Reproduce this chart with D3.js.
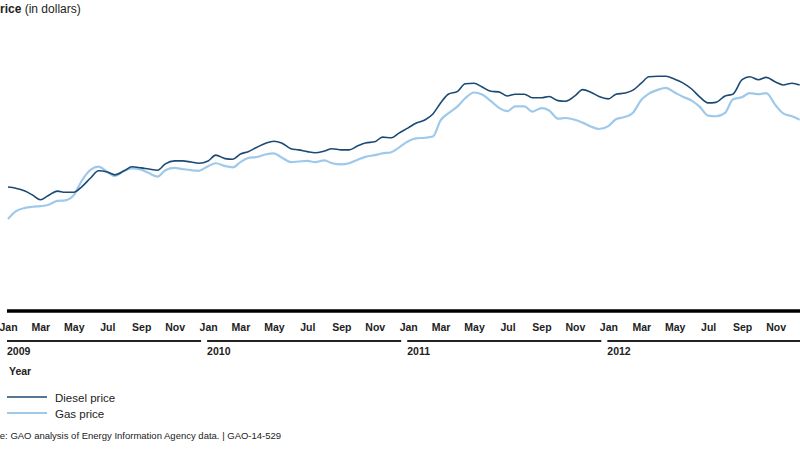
<!DOCTYPE html>
<html>
<head>
<meta charset="utf-8">
<script src="https://cdn.jsdelivr.net/npm/d3@7"></script>
<style>
  body { margin: 0; background: #fff; }
  svg { display: block; font-family: "Liberation Sans", Arial, sans-serif; }
</style>
</head>
<body>
<svg id="chart" width="800" height="450"></svg>
<script>
// Semi-monthly observations (1st and 15th of each month), Jan 2009 - Dec 2012
const years = [2009, 2010, 2011, 2012];
const monthLabels = ["Jan", "Mar", "May", "Jul", "Sep", "Nov"];
const dieselPrice = [
  2.31, 2.29, 2.24, 2.17, 2.09, 2.16, 2.24, 2.22, 2.22, 2.31, 2.47, 2.59,
  2.57, 2.52, 2.59, 2.66, 2.64, 2.62, 2.60, 2.71, 2.76, 2.76, 2.74, 2.72,
  2.76, 2.86, 2.80, 2.79, 2.88, 2.92, 3.00, 3.06, 3.10, 3.07, 2.97, 2.95,
  2.92, 2.90, 2.93, 2.97, 2.95, 2.95, 3.02, 3.07, 3.09, 3.17, 3.16, 3.24,
  3.33, 3.41, 3.47, 3.57, 3.76, 3.91, 3.96, 4.09, 4.10, 4.04, 3.96, 3.95,
  3.88, 3.91, 3.91, 3.85, 3.85, 3.87, 3.80, 3.79, 3.88, 3.99, 3.94, 3.87,
  3.83, 3.91, 3.93, 3.98, 4.10, 4.21, 4.22, 4.22, 4.17, 4.11, 4.00, 3.87,
  3.76, 3.77, 3.88, 3.91, 4.16, 4.21, 4.16, 4.20, 4.12, 4.07, 4.10, 4.07
];
const gasPrice = [
  1.76, 1.89, 1.95, 1.97, 1.98, 2.00, 2.07, 2.08, 2.17, 2.41, 2.61, 2.66,
  2.57, 2.50, 2.59, 2.63, 2.61, 2.55, 2.49, 2.60, 2.64, 2.62, 2.60, 2.59,
  2.67, 2.72, 2.67, 2.65, 2.74, 2.81, 2.83, 2.87, 2.89, 2.82, 2.74, 2.75,
  2.76, 2.74, 2.77, 2.72, 2.70, 2.72, 2.78, 2.83, 2.86, 2.89, 2.91, 2.99,
  3.10, 3.15, 3.16, 3.18, 3.46, 3.58, 3.70, 3.84, 3.94, 3.91, 3.79, 3.68,
  3.62, 3.70, 3.70, 3.61, 3.67, 3.63, 3.49, 3.50, 3.47, 3.42, 3.35, 3.31,
  3.36, 3.48, 3.52, 3.59, 3.81, 3.92, 3.99, 4.02, 3.94, 3.87, 3.80, 3.70,
  3.54, 3.53, 3.59, 3.82, 3.86, 3.93, 3.91, 3.93, 3.72, 3.58, 3.53, 3.47
];

const dates = [];
years.forEach(y => d3.range(12).forEach(m => {
  dates.push(new Date(y, m, 1));
  dates.push(new Date(y, m, 15));
}));
const series = [
  { name: "Diesel price", values: dieselPrice, color: "#1b4a74", width: 1.6 },
  { name: "Gas price", values: gasPrice, color: "#9fc9ea", width: 2.2 }
];

const svg = d3.select("#chart");
const x = d3.scaleTime()
  .domain([new Date(2009, 0, 1), new Date(2013, 0, 1)])
  .range([8, 809]);
const y = d3.scaleLinear().domain([0, 5]).range([321, 31]);

// Title (left part cut off by the frame)
svg.append("text").attr("x", -8).attr("y", 13)
  .attr("font-size", 12).attr("fill", "#222")
  .call(t => {
    t.append("tspan").attr("font-weight", "bold").text("Price");
    t.append("tspan").text(" (in dollars)");
  });

// Lines
const line = d3.line()
  .x((d, i) => x(dates[i]))
  .y(d => y(d))
  .curve(d3.curveMonotoneX);
svg.append("g").selectAll("path").data(series.slice().reverse()).join("path")
  .attr("fill", "none")
  .attr("stroke", d => d.color)
  .attr("stroke-width", d => d.width)
  .attr("stroke-linejoin", "round")
  .attr("d", d => line(d.values));

// Thick baseline
svg.append("line").attr("x1", 7).attr("x2", 800).attr("y1", 311).attr("y2", 311)
  .attr("stroke", "#000").attr("stroke-width", 3.5);

// Month ticks labels
const monthIdx = { Jan: 0, Mar: 2, May: 4, Jul: 6, Sep: 8, Nov: 10 };
const ticks = [];
years.forEach(yr => monthLabels.forEach(m => ticks.push({ date: new Date(yr, monthIdx[m], 1), label: m })));
const xAxis = d3.axisBottom(x)
  .tickValues(ticks.map(t => t.date))
  .tickFormat(d3.timeFormat("%b"))
  .tickSize(0).tickPadding(0);
const gx = svg.append("g").attr("transform", "translate(0,324)").call(xAxis);
gx.select(".domain").remove();
gx.selectAll("text")
  .attr("font-family", "Liberation Sans, Arial, sans-serif")
  .attr("font-size", 10.5).attr("font-weight", "bold").attr("fill", "#222")
  .attr("dy", "0.71em");

// Year brackets
const yearG = svg.append("g");
years.forEach(yr => {
  const x0 = x(new Date(yr, 0, 1)) - 1;
  const x1 = Math.min(x(new Date(yr + 1, 0, 1)) - 7, 800);
  yearG.append("line").attr("x1", x0).attr("x2", x1).attr("y1", 341).attr("y2", 341)
    .attr("stroke", "#222").attr("stroke-width", 2);
  yearG.append("text").attr("x", x0).attr("y", 355)
    .attr("font-size", 10.5).attr("font-weight", "bold").attr("fill", "#222")
    .text(yr);
});
svg.append("text").attr("x", 9).attr("y", 375)
  .attr("font-size", 10.5).attr("font-weight", "bold").attr("fill", "#222")
  .text("Year");

// Legend
const lg = svg.append("g").selectAll("g").data(series).join("g")
  .attr("transform", (d, i) => `translate(0,${397 + i * 16})`);
lg.append("line").attr("x1", 7).attr("x2", 47).attr("y1", 0).attr("y2", 0)
  .attr("stroke", d => d.color).attr("stroke-width", d => d.width);
lg.append("text").attr("x", 55).attr("y", 4.5)
  .attr("font-size", 11.5).attr("fill", "#222").text(d => d.name);

// Source
svg.append("text").attr("x", -25).attr("y", 439)
  .attr("font-size", 9.5).attr("fill", "#222")
  .text("Source: GAO analysis of Energy Information Agency data. | GAO-14-529");
</script>
</body>
</html>
